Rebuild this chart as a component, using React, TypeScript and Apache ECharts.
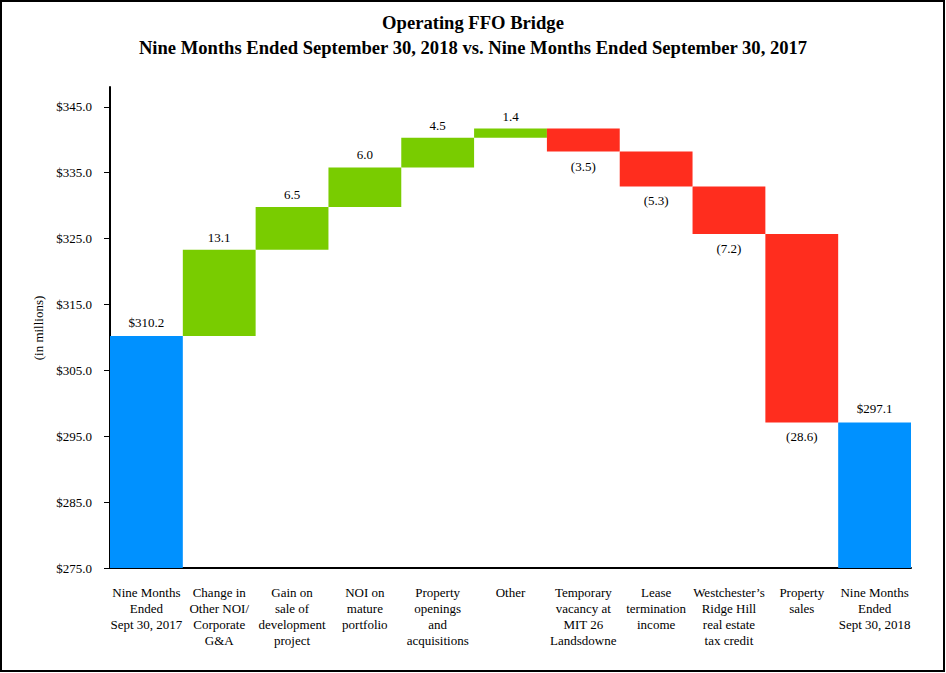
import React, { useEffect, useRef } from "react";
import * as echarts from "echarts";

const categories = [
  "Nine Months\nEnded\nSept 30, 2017",
  "Change in\nOther NOI/\nCorporate\nG&A",
  "Gain on\nsale of\ndevelopment\nproject",
  "NOI on\nmature\nportfolio",
  "Property\nopenings\nand\nacquisitions",
  "Other",
  "Temporary\nvacancy at\nMIT 26\nLandsdowne",
  "Lease\ntermination\nincome",
  "Westchester’s\nRidge Hill\nreal estate\ntax credit",
  "Property\nsales",
  "Nine Months\nEnded\nSept 30, 2018",
];
const startValue = 310.2;
const endValue = 297.1;
const deltas = [13.1, 6.5, 6.0, 4.5, 1.4, -3.5, -5.3, -7.2, -28.6];
const yTicks = [275, 285, 295, 305, 315, 325, 335, 345];

const FONT = "'Liberation Serif', 'Times New Roman', serif";
const BLUE = "#0091FF";
const GREEN = "#79CC00";
const RED = "#FF2D1E";

export default function App() {
  const ref = useRef<HTMLDivElement>(null);
  useEffect(() => {
    document.body.style.margin = "0";
    if (!ref.current) return;
    const chart = echarts.init(ref.current, null, { renderer: "svg" });

    const base: any[] = [0];
    const totals: any[] = [startValue];
    const ups: any[] = ["-"];
    const downs: any[] = ["-"];
    let running = startValue;
    deltas.forEach((d) => {
      totals.push("-");
      if (d >= 0) {
        base.push(running);
        ups.push(d);
        downs.push("-");
      } else {
        base.push(running + d);
        ups.push("-");
        downs.push(-d);
      }
      running += d;
    });
    base.push(0);
    totals.push(endValue);
    ups.push("-");
    downs.push("-");

    const labelStyle = { fontFamily: FONT, fontSize: 13, color: "#000" };

    chart.setOption({
      animation: false,
      backgroundColor: "#fff",
      title: {
        text: "Operating FFO Bridge\nNine Months Ended September 30, 2018 vs. Nine Months Ended September 30, 2017",
        left: "center",
        top: 5,
        textStyle: {
          fontFamily: FONT,
          fontSize: 18.6,
          fontWeight: "bold",
          color: "#000",
          lineHeight: 25,
        },
      },
      grid: { left: 110, right: 35, top: 87, bottom: 105 },
      xAxis: {
        type: "category",
        data: categories,
        axisLine: { lineStyle: { color: "#000", width: 2 } },
        axisTick: { alignWithLabel: true, length: 6, lineStyle: { color: "#000" } },
        axisLabel: {
          interval: 0,
          margin: 16,
          fontFamily: FONT,
          fontSize: 13,
          lineHeight: 16,
          color: "#000",
          align: "center",
        },
      },
      yAxis: {
        type: "value",
        min: 275,
        max: 348,
        splitLine: { show: false },
        axisLine: { show: true, lineStyle: { color: "#000", width: 2 } },
        axisTick: { show: true, length: 6, customValues: yTicks, lineStyle: { color: "#000" } },
        axisLabel: {
          customValues: yTicks,
          margin: 18,
          fontFamily: FONT,
          fontSize: 13,
          color: "#000",
          formatter: (v: number) => "$" + v.toFixed(1),
        },
      },
      graphic: [
        {
          type: "rect",
          shape: { x: 1, y: 1, width: 943, height: 670 },
          style: { fill: "none", stroke: "#000", lineWidth: 2 },
        },
        {
          type: "text",
          x: 38,
          y: 328,
          rotation: Math.PI / 2,
          style: {
            text: "(in millions)",
            fontFamily: FONT,
            fontSize: 13,
            fill: "#000",
            align: "center",
            verticalAlign: "middle",
          },
        },
      ],
      series: [
        {
          type: "bar",
          stack: "w",
          data: base,
          barCategoryGap: "0%",
          itemStyle: { color: "transparent" },
          emphasis: { disabled: true },
          silent: true,
        },
        {
          type: "bar",
          stack: "w",
          data: totals,
          itemStyle: { color: BLUE },
          label: {
            show: true,
            position: "top",
            distance: 7,
            ...labelStyle,
            formatter: (p: any) => "$" + Number(p.value).toFixed(1),
          },
        },
        {
          type: "bar",
          stack: "w",
          data: ups,
          itemStyle: { color: GREEN },
          label: {
            show: true,
            position: "top",
            distance: 6,
            ...labelStyle,
            formatter: (p: any) => Number(p.value).toFixed(1),
          },
        },
        {
          type: "bar",
          stack: "w",
          data: downs,
          itemStyle: { color: RED },
          label: {
            show: true,
            position: "bottom",
            distance: 8,
            ...labelStyle,
            formatter: (p: any) => "(" + Number(p.value).toFixed(1) + ")",
          },
        },
      ],
    });
    return () => chart.dispose();
  }, []);
  return <div ref={ref} style={{ width: 946, height: 673 }} />;
}
